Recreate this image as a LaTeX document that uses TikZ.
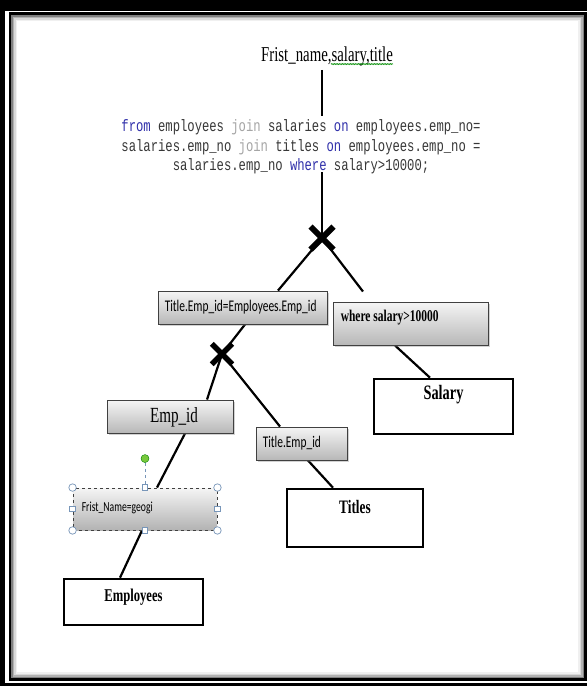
\documentclass[tikz,border=0pt]{standalone}
\usepackage{fontspec}
\usetikzlibrary{shapes.misc,shadows,decorations.pathmorphing,calc}
\newfontfamily\serifc[FakeStretch=0.7]{Liberation Serif}
\newfontfamily\calfont[FakeStretch=0.7]{Carlito}
\newfontfamily\codefont[FakeStretch=0.74]{Liberation Mono}
\definecolor{kwblue}{RGB}{48,48,170}
\definecolor{kwgray}{RGB}{165,165,165}
\definecolor{codetxt}{RGB}{55,55,55}
\definecolor{handle}{RGB}{120,150,185}
\definecolor{dotgreen}{RGB}{120,200,60}
\pgfdeclarelayer{frame}
\pgfdeclarelayer{lines}
\pgfsetlayers{frame,lines,main}
\begin{document}
\begin{tikzpicture}[x=1pt,y=-1pt,
  graybox/.style={draw=black!75, line width=0.9pt, top color=black!4, bottom color=black!28,
    drop shadow={shadow xshift=1.5pt, shadow yshift=-1.5pt, opacity=0.35}, inner sep=0pt},
  selbox/.style={draw=black!75, dashed, line width=0.9pt, top color=black!4, bottom color=black!30, inner sep=0pt},
  tablebox/.style={draw=black, line width=2.6pt, fill=white, inner sep=0pt},
  link/.style={line width=2.2pt, black},
  joinx/.style={cross out, draw=black, line width=6pt, minimum size=17pt, inner sep=0pt},
  handlec/.style={circle, draw=handle, fill=white, line width=0.7pt, minimum size=7.5pt, inner sep=0pt},
  handles/.style={rectangle, draw=handle, fill=white, line width=0.7pt, minimum size=5.5pt, inner sep=0pt},
  txt/.style={inner sep=0pt},
  calt/.style={txt, font=\calfont\fontsize{16.3}{18}\selectfont},
]
\useasboundingbox (0,0) rectangle (587,686);

% frame
\begin{pgfonlayer}{frame}
\fill[black] (0,0) rectangle (587,686);
\fill[white] (4.5,11) rectangle (592,682.5);
\draw[black, line width=3pt] (10,13.8) rectangle (585.5,679.5);
\draw[black!50, line width=1.5pt] (12.2,16) rectangle (583.3,677.3);
\draw[black!30, line width=1.5pt] (13.7,17.5) rectangle (581.8,675.8);
\draw[black!15, line width=1.5pt] (15.2,19) rectangle (580.3,674.3);
\draw[black!6, line width=1.5pt] (16.7,20.5) rectangle (578.8,672.8);
\end{pgfonlayer}

% texts at top
\node[txt, font=\serifc\fontsize{21.2}{24}\selectfont] (sel) at (327,56) {Frist\_name,salary,title};
\draw[green!55!black, line width=0.5pt, decorate, decoration={zigzag, amplitude=0.6pt, segment length=1.6pt}]
  ($(sel.base west)+(70,3)$) -- ($(sel.base east)+(0,3)$);

\node[txt, align=center, text=codetxt, font=\codefont\fontsize{16.5}{19.5}\selectfont] (code) at (301,147)
 {\textcolor{kwblue}{from} employees \textcolor{kwgray}{join} salaries \textcolor{kwblue}{on} employees.emp\_no=\\
  salaries.emp\_no \textcolor{kwgray}{join} titles \textcolor{kwblue}{on} employees.emp\_no =\\
  salaries.emp\_no \textcolor{kwblue}{where} salary>10000;};

% boxes
\node[graybox, minimum width=169pt, minimum height=33pt] (t1) at (242.5,307.5) {};
\node[calt, anchor=west] (t1t) at ([xshift=7pt]t1.west) {Title.Emp\_id=Employees.Emp\_id};

\node[graybox, minimum width=155pt, minimum height=43pt] (wh) at (410.5,323.5) {};
\node[txt, anchor=west, font=\serifc\bfseries\fontsize{16.4}{18}\selectfont] (wht) at ([xshift=8pt,yshift=6pt]wh.west) {where salary>10000};

\node[tablebox, minimum width=139pt, minimum height=55pt] (sal) at (443.5,406.5) {};
\node[txt, font=\serifc\bfseries\fontsize{20.5}{22}\selectfont] (salt) at ([yshift=-17pt]sal.north) {Salary};

\node[graybox, minimum width=126pt, minimum height=33pt] (empid) at (170,416.5) {};
\node[txt, font=\serifc\fontsize{21.6}{23}\selectfont] (empidt) at ([xshift=4pt,yshift=-1pt]empid.center) {Emp\_id};

\node[graybox, minimum width=91pt, minimum height=33pt] (t2) at (301.5,443.5) {};
\node[calt, anchor=west] (t2t) at ([xshift=7pt]t2.west) {Title.Emp\_id};

\node[tablebox, minimum width=136pt, minimum height=58pt] (titles) at (355,518) {};
\node[txt, font=\serifc\bfseries\fontsize{19}{21}\selectfont] (titlest) at ([yshift=-19pt]titles.north) {Titles};

\node[selbox, minimum width=144pt, minimum height=42pt] (frist) at (145,509) {};
\node[txt, anchor=west, font=\calfont\fontsize{13.8}{15}\selectfont] (fristt) at ([xshift=9pt,yshift=1pt]frist.west) {Frist\_Name=geogi};

\node[tablebox, minimum width=139pt, minimum height=46pt] (emp) at (133.5,602) {};
\node[txt, font=\serifc\bfseries\fontsize{18}{20}\selectfont] (empt) at ([yshift=-19pt]emp.north) {Employees};

% selection handles
\node[circle, fill=dotgreen, draw=green!50!black, line width=0.4pt, minimum size=8pt, inner sep=0pt] (rot) at ([yshift=29pt]frist.north) {};
\draw[handle, dashed, line width=0.8pt] (rot.south) -- (frist.north);
\foreach \a in {north west, north east, south west, south east}
  \node[handlec] at (frist.\a) {};
\foreach \a in {north, south, west, east}
  \node[handles] at (frist.\a) {};

% join marks
\node[joinx] (x1) at (322,238) {};
\node[joinx, minimum size=15pt, line width=5.5pt] (x2) at (222,354) {};

% connectors
\begin{pgfonlayer}{lines}
\draw[link] ($(sel.south -| x1.center)+(0,4)$) -- ($(code.north -| x1.center)+(0,-4)$);
\draw[link] ($(code.south -| x1.center)+(0,-2)$) -- (x1.center);
\draw[link] (x1.center) -- ([xshift=35.5pt]t1.north);
\coordinate (wtip) at ([xshift=-47.5pt,yshift=10pt]wh.north);
\draw[link] (x1.center) -- (wtip);
\draw[link] ([xshift=2.5pt]t1.south) -- (x2.center);
\draw[link] (x2.center) -- ([xshift=37pt]empid.north);
\draw[link] (x2.center) -- ([xshift=-21.5pt]t2.north);
\draw[link] ([xshift=-15.5pt]wh.south) -- ([xshift=-13.5pt]sal.north);
\draw[link] ([xshift=6.5pt]t2.south) -- ([xshift=-22pt]titles.north);
\draw[link] ([xshift=15pt]empid.south) -- ([xshift=12pt]frist.north);
\draw[link] ([xshift=-3pt]frist.south) -- ([xshift=-13.5pt]emp.north);
\end{pgfonlayer}
\end{tikzpicture}
\end{document}
